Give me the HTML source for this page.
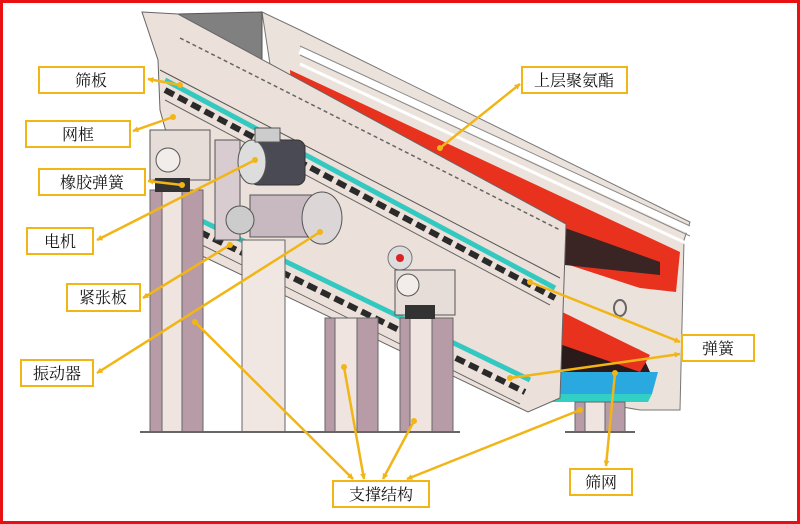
<!DOCTYPE html>
<html><head><meta charset="utf-8"><style>
html,body{margin:0;padding:0;background:#fff}
svg{display:block}
text{font-family:"Liberation Serif","Noto Serif CJK SC","Noto Sans CJK SC",serif;font-size:16px;fill:#111}
</style></head><body>
<svg width="800" height="524" viewBox="0 0 800 524" xmlns="http://www.w3.org/2000/svg">
<defs>
<marker id="ah" viewBox="0 0 10 10" refX="9" refY="5" markerWidth="6" markerHeight="6" orient="auto-start-reverse" markerUnits="userSpaceOnUse">
<path d="M0,0 L10,5 L0,10 z" fill="#f2b516"/></marker>
</defs>
<rect x="1.5" y="1.5" width="797" height="521" fill="#fff" stroke="#e81010" stroke-width="3"/>

<!-- far plate -->
<polygon points="262,12 300,30 690,222 684,240 680,410 640,410 570,398 300,260" fill="#ece2dc" stroke="#777" stroke-width="1"/>
<!-- upper red band -->
<polygon points="290,70 680,252 676,292 640,288 560,262 292,100" fill="#e8321e"/>
<polygon points="565,228 660,262 660,275 565,265" fill="#3a2424"/>
<line x1="300" y1="50" x2="690" y2="230" stroke="#fff" stroke-width="8"/>
<line x1="300" y1="46" x2="690" y2="226" stroke="#888" stroke-width="1"/>
<line x1="300" y1="55" x2="690" y2="236" stroke="#888" stroke-width="1"/>
<line x1="300" y1="64" x2="690" y2="245" stroke="#fff" stroke-width="3"/>
<!-- lower section -->
<polygon points="548,310 640,350 650,372 548,372" fill="#2a1a1a"/>
<polygon points="548,305 650,355 640,372 548,340" fill="#e8321e"/>
<polygon points="540,372 658,372 652,394 545,394" fill="#2aa8e0"/>
<polygon points="540,394 652,394 648,402 545,402" fill="#32d0c4"/>
<!-- hopper -->
<polygon points="178,14 262,12 262,70 230,70" fill="#808080" stroke="#555"/>
<!-- near plate -->
<polygon points="142,12 178,14 566,224 560,398 528,412 200,255 160,110 158,60" fill="#ebe0da" stroke="#666" stroke-width="1"/>
<!-- strips -->
<line x1="160" y1="70" x2="560" y2="278" stroke="#555" stroke-width="1"/>
<line x1="165" y1="80" x2="555" y2="288" stroke="#33c9c0" stroke-width="5"/>
<line x1="165" y1="90" x2="555" y2="298" stroke="#2a2a2a" stroke-width="6" stroke-dasharray="10 5"/>
<line x1="165" y1="100" x2="550" y2="305" stroke="#666" stroke-width="1"/>
<line x1="200" y1="220" x2="530" y2="380" stroke="#33c9c0" stroke-width="5"/>
<line x1="200" y1="232" x2="525" y2="392" stroke="#2a2a2a" stroke-width="6" stroke-dasharray="10 5"/>
<line x1="200" y1="244" x2="520" y2="404" stroke="#666" stroke-width="1"/>
<!-- zigzag -->
<polyline points="180,38 560,230" stroke="#666" fill="none" stroke-width="1.5" stroke-dasharray="4 3"/>
<!-- flanges -->
<circle cx="400" cy="258" r="12" fill="#ddd" stroke="#777"/><circle cx="400" cy="258" r="4" fill="#d22"/>
<ellipse cx="620" cy="308" rx="6" ry="8" fill="none" stroke="#666" stroke-width="2"/>
<!-- legs -->
<g stroke="#666" stroke-width="1">
<rect x="150" y="190" width="53" height="242" fill="#efe4df"/>
<rect x="150" y="190" width="12" height="242" fill="#b79ca8"/>
<rect x="182" y="190" width="21" height="242" fill="#b79ca8"/>
<rect x="242" y="240" width="43" height="192" fill="#f0e7e3"/>
<rect x="325" y="318" width="53" height="114" fill="#efe4df"/>
<rect x="325" y="318" width="10" height="114" fill="#b79ca8"/>
<rect x="357" y="318" width="21" height="114" fill="#b79ca8"/>
<rect x="400" y="318" width="53" height="114" fill="#efe4df"/>
<rect x="400" y="318" width="10" height="114" fill="#b79ca8"/>
<rect x="432" y="318" width="21" height="114" fill="#b79ca8"/>
<rect x="575" y="402" width="50" height="30" fill="#efe4df"/>
<rect x="575" y="402" width="10" height="30" fill="#b79ca8"/>
<rect x="605" y="402" width="20" height="30" fill="#b79ca8"/>
</g>
<line x1="140" y1="432" x2="460" y2="432" stroke="#666" stroke-width="2"/>
<line x1="565" y1="432" x2="635" y2="432" stroke="#666" stroke-width="2"/>
<!-- spring seats -->
<rect x="150" y="130" width="60" height="50" fill="#e6dcd8" stroke="#555"/>
<circle cx="168" cy="160" r="12" fill="#f2ecea" stroke="#555"/>
<rect x="155" y="178" width="35" height="14" fill="#333"/>
<rect x="395" y="270" width="60" height="45" fill="#e6dcd8" stroke="#555"/>
<circle cx="408" cy="285" r="11" fill="#f2ecea" stroke="#555"/>
<rect x="405" y="305" width="30" height="14" fill="#333"/>
<!-- motor -->
<rect x="215" y="140" width="25" height="100" fill="#d8ccd0" stroke="#555"/>
<rect x="250" y="140" width="55" height="45" rx="8" fill="#4a4a55" stroke="#333"/>
<ellipse cx="252" cy="162" rx="14" ry="22" fill="#ddd" stroke="#555"/>
<rect x="255" y="128" width="25" height="14" fill="#ccc" stroke="#555"/>
<rect x="250" y="195" width="70" height="42" fill="#c8b8c0" stroke="#555"/>
<ellipse cx="322" cy="218" rx="20" ry="26" fill="#ddd6d6" stroke="#555"/>
<circle cx="240" cy="220" r="14" fill="#ccc" stroke="#555"/>
<!-- arrows -->
<g stroke="#f2b516" stroke-width="2.5" fill="none" marker-end="url(#ah)">
<line x1="180" y1="85" x2="148" y2="79"/>
<line x1="173" y1="117" x2="133" y2="131"/>
<line x1="182" y1="185" x2="148" y2="181"/>
<line x1="255" y1="160" x2="97" y2="240"/>
<line x1="230" y1="245" x2="143" y2="298"/>
<line x1="320" y1="232" x2="97" y2="373"/>
<line x1="440" y1="148" x2="520" y2="84"/>
<line x1="530" y1="282" x2="680" y2="342"/>
<line x1="510" y1="378" x2="680" y2="354"/>
<line x1="615" y1="373" x2="606" y2="466"/>
<line x1="195" y1="322" x2="353" y2="479"/>
<line x1="344" y1="367" x2="364" y2="479"/>
<line x1="414" y1="421" x2="383" y2="479"/>
<line x1="580" y1="410" x2="407" y2="479"/>
</g>
<g fill="#f2b516">
<circle cx="180" cy="85" r="3"/><circle cx="173" cy="117" r="3"/><circle cx="182" cy="185" r="3"/>
<circle cx="255" cy="160" r="3"/><circle cx="230" cy="245" r="3"/><circle cx="320" cy="232" r="3"/>
<circle cx="440" cy="148" r="3"/><circle cx="530" cy="282" r="3"/><circle cx="510" cy="378" r="3"/>
<circle cx="615" cy="373" r="3"/><circle cx="195" cy="322" r="3"/><circle cx="344" cy="367" r="3"/>
<circle cx="414" cy="421" r="3"/><circle cx="580" cy="410" r="3"/>
</g>
<!-- label boxes -->
<g fill="#fff" stroke="#f2b516" stroke-width="2">
<rect x="39" y="67" width="105" height="26"/>
<rect x="26" y="121" width="104" height="26"/>
<rect x="39" y="169" width="106" height="26"/>
<rect x="27" y="228" width="66" height="26"/>
<rect x="67" y="284" width="73" height="27"/>
<rect x="21" y="360" width="72" height="26"/>
<rect x="522" y="67" width="105" height="26"/>
<rect x="682" y="335" width="72" height="26"/>
<rect x="570" y="469" width="62" height="26"/>
<rect x="333" y="481" width="96" height="26"/>
</g>
<g text-anchor="middle">
<text x="91" y="86">筛板</text>
<text x="78" y="140">网框</text>
<text x="92" y="188">橡胶弹簧</text>
<text x="60" y="247">电机</text>
<text x="103" y="303">紧张板</text>
<text x="57" y="379">振动器</text>
<text x="574" y="86">上层聚氨酯</text>
<text x="718" y="354">弹簧</text>
<text x="601" y="488">筛网</text>
<text x="381" y="500">支撑结构</text>
</g>
</svg>
</body></html>
